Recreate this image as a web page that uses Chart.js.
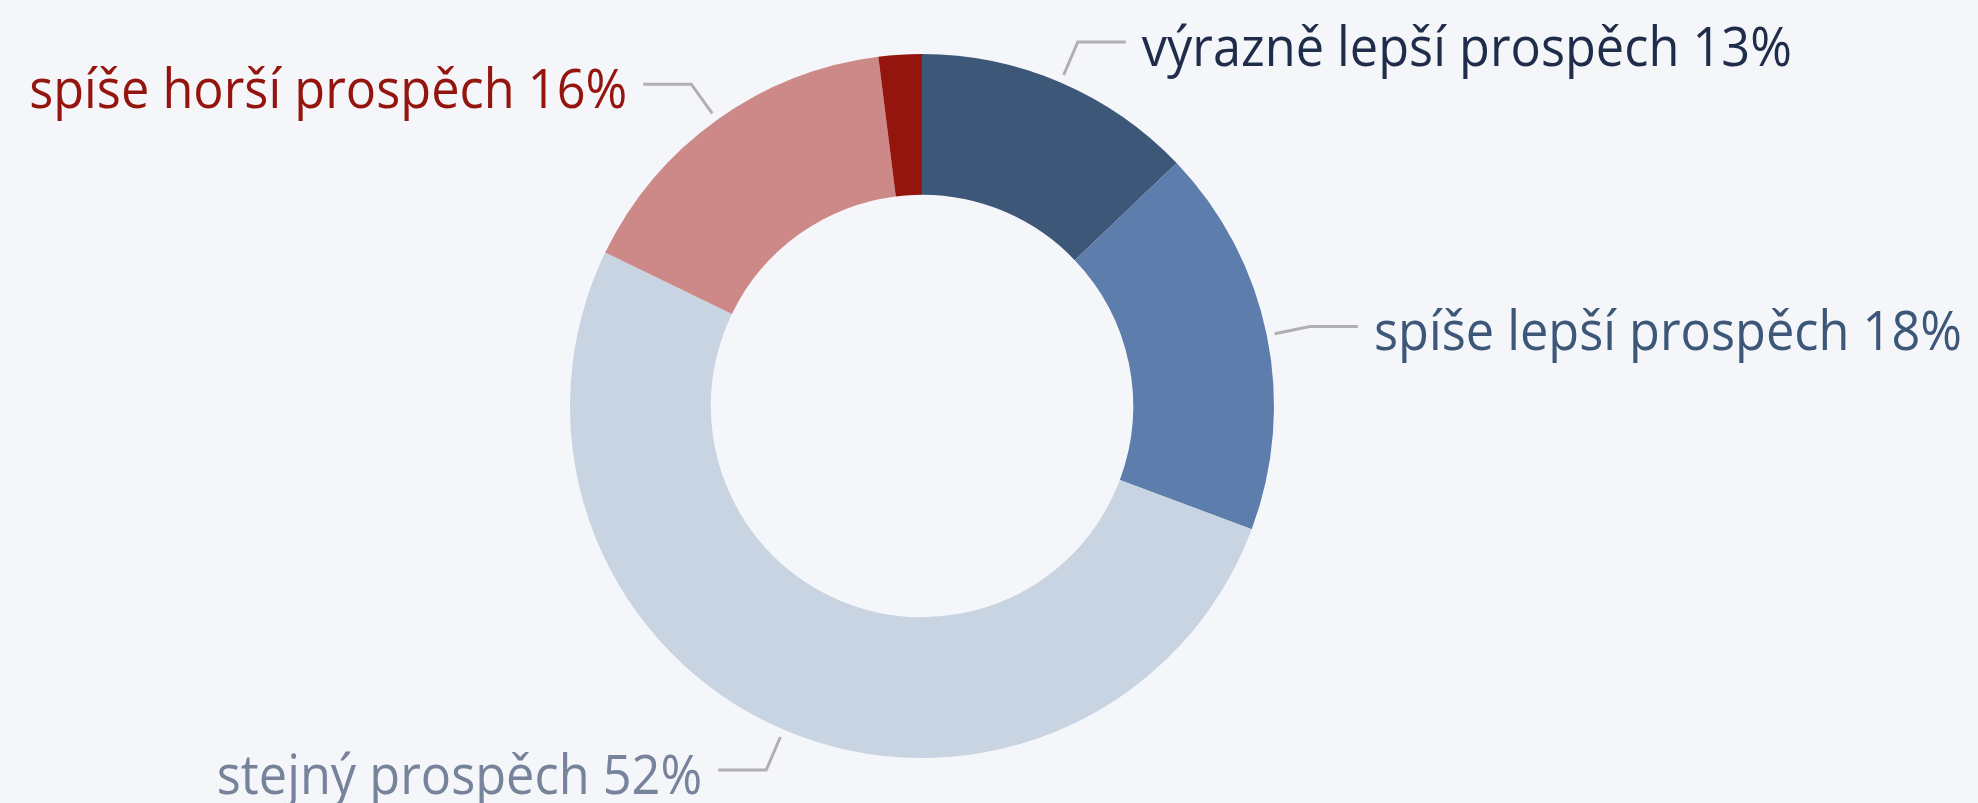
<!DOCTYPE html>
<html lang="cs">
<head>
<meta charset="utf-8">
<title>Prospěch</title>
<script src="https://cdn.jsdelivr.net/npm/chart.js@4.4.1/dist/chart.umd.min.js"></script>
<style>
  html, body { margin: 0; padding: 0; background: #f5f6fa; }
  #wrap { width: 1978px; height: 803px; position: relative; }
</style>
</head>
<body>
<div id="wrap"><canvas id="chart-prospech"></canvas></div>
<script>
  // kategorie po směru hodinových ručiček od 12 hodin
  const categories = [
    'výrazně lepší prospěch',
    'spíše lepší prospěch',
    'stejný prospěch',
    'spíše horší prospěch',
    'výrazně horší prospěch',
  ];
  const shares = [13, 18, 52, 16, 2];   // v procentech
  const showLabel = [true, true, true, true, false];

  const sliceColors = ['#3d5779', '#5d7dac', '#c8d4e2', '#cd8987', '#94140e'];
  const textColors  = ['#1f2d4a', '#3d5779', '#76839a', '#94140e', '#94140e'];

  const LABEL = {
    font: '54px "Open Sans", "Noto Sans", sans-serif',
    squeeze: 0.935,     // užší písmo
    lineColor: '#b0b0b0',
    lineWidth: 3,
    startOff: 8,        // odsazení vodicí čáry od oblouku
    elbowOff: 44,
    run: 48,            // vodorovná část čáry
    gap: 16,
    baseline: 24,       // účaří pod vodorovnou čarou
  };

  // popisky s vodicími čarami mimo prstenec
  const outsideLabels = {
    id: 'outsideLabels',
    afterDatasetsDraw(chart) {
      const ctx = chart.ctx;
      const meta = chart.getDatasetMeta(0);
      ctx.save();
      meta.data.forEach((arc, i) => {
        if (!showLabel[i]) return;
        const mid = (arc.startAngle + arc.endAngle) / 2;
        const cos = Math.cos(mid), sin = Math.sin(mid);
        const r = arc.outerRadius;
        const x0 = arc.x + cos * (r + LABEL.startOff);
        const y0 = arc.y + sin * (r + LABEL.startOff);
        const x1 = arc.x + cos * (r + LABEL.elbowOff);
        const y1 = arc.y + sin * (r + LABEL.elbowOff);
        const right = cos >= 0;
        const x2 = x1 + (right ? LABEL.run : -LABEL.run);

        ctx.strokeStyle = LABEL.lineColor;
        ctx.lineWidth = LABEL.lineWidth;
        ctx.lineJoin = 'miter';
        ctx.beginPath();
        ctx.moveTo(x0, y0);
        ctx.lineTo(x1, y1);
        ctx.lineTo(x2, y1);
        ctx.stroke();

        const text = categories[i] + ' ' + shares[i] + '%';
        ctx.font = LABEL.font;
        ctx.fillStyle = textColors[i];
        ctx.textBaseline = 'alphabetic';
        ctx.textAlign = right ? 'left' : 'right';
        const tx = x2 + (right ? LABEL.gap : -LABEL.gap);
        ctx.save();
        ctx.translate(tx, y1 + LABEL.baseline);
        ctx.scale(LABEL.squeeze, 1);
        ctx.fillText(text, 0, 0);
        ctx.restore();
      });
      ctx.restore();
    },
  };

  new Chart(document.getElementById('chart-prospech'), {
    type: 'doughnut',
    data: {
      labels: categories,
      datasets: [{
        data: shares,
        backgroundColor: sliceColors,
        borderWidth: 0,
        hoverOffset: 0,
      }],
    },
    options: {
      responsive: true,
      maintainAspectRatio: false,
      animation: false,
      cutout: '60%',
      layout: { padding: { top: 54, bottom: 45, left: 570, right: 704 } },
      plugins: {
        legend: { display: false },
        tooltip: { enabled: false },
      },
    },
    plugins: [outsideLabels],
  });
</script>
</body>
</html>
